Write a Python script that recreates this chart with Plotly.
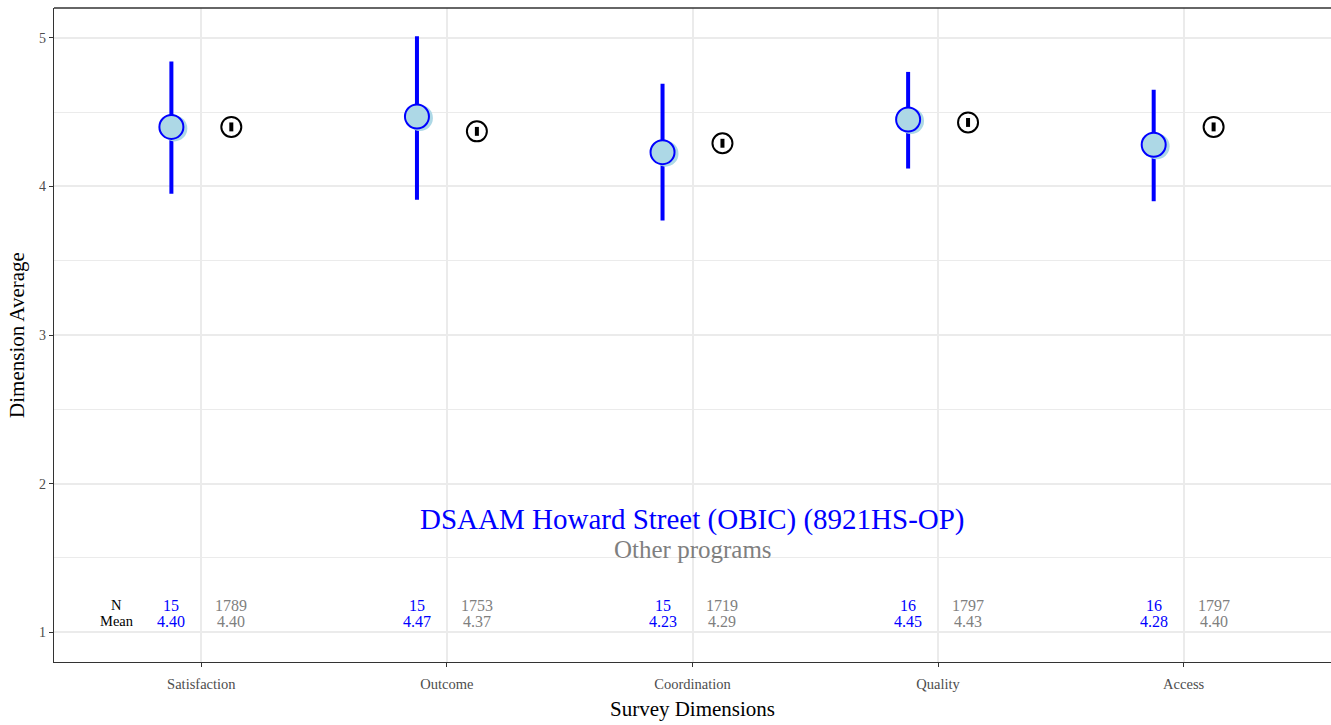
import plotly.graph_objects as go

# Survey dimensions and summary statistics
categories = ["Satisfaction", "Outcome", "Coordination", "Quality", "Access"]

prog_name = "DSAAM Howard Street (OBIC) (8921HS-OP)"
prog_n = [15, 15, 15, 16, 16]
prog_mean = [4.40, 4.47, 4.23, 4.45, 4.28]
prog_lo = [3.95, 3.91, 3.77, 4.12, 3.90]
prog_hi = [4.84, 5.01, 4.69, 4.77, 4.65]

other_name = "Other programs"
other_n = [1789, 1753, 1719, 1797, 1797]
other_mean = [4.40, 4.37, 4.29, 4.43, 4.40]
other_err = [0.03, 0.03, 0.03, 0.03, 0.03]

y_ticks = [1, 2, 3, 4, 5]

FONT = "Liberation Serif"
BLUE = "#0000ff"
GREY = "#7f7f7f"
DODGE = 0.122
ROW_N = 1.181     # y of the "N" row
ROW_MEAN = 1.074  # y of the "Mean" row

xpos = list(range(1, len(categories) + 1))
x_prog = [x - DODGE for x in xpos]
x_other = [x + DODGE for x in xpos]

fig = go.Figure()

# Program confidence intervals
fig.add_trace(go.Scatter(
    x=x_prog, y=prog_mean, mode="markers",
    marker=dict(size=0.1, color=BLUE),
    error_y=dict(type="data", symmetric=False,
                 array=[h - m for h, m in zip(prog_hi, prog_mean)],
                 arrayminus=[m - l for l, m in zip(prog_lo, prog_mean)],
                 color=BLUE, thickness=4, width=0),
    hoverinfo="skip", showlegend=False,
))
# soft halo behind the program means
fig.add_trace(go.Scatter(
    x=[x + 0.012 for x in x_prog], y=[m - 0.01 for m in prog_mean], mode="markers",
    marker=dict(size=26, color="#add8e6", line=dict(width=0)),
    hoverinfo="skip", showlegend=False,
))
fig.add_trace(go.Scatter(
    x=x_prog, y=prog_mean, mode="markers",
    marker=dict(size=24, color="#add8e6", line=dict(width=2, color=BLUE)),
    name=prog_name, showlegend=False,
))

# Other programs: mean with a narrow interval
fig.add_trace(go.Scatter(
    x=x_other, y=other_mean, mode="markers",
    marker=dict(size=20, color="white", line=dict(width=2, color="black")),
    hoverinfo="skip", showlegend=False,
))
fig.add_trace(go.Scatter(
    x=x_other, y=other_mean, mode="markers",
    marker=dict(size=0.1, color="black"),
    error_y=dict(type="data", array=other_err, color="black", thickness=4, width=0),
    name=other_name, showlegend=False,
))

annotations = []


def label(x, y, text, color, size):
    annotations.append(dict(x=x, y=y, xref="x", yref="y", text=text,
                            showarrow=False,
                            font=dict(family=FONT, size=size, color=color)))


# N / Mean row labels
label(1 - 0.345, ROW_N, "N", "black", 14.5)
label(1 - 0.345, ROW_MEAN, "Mean", "black", 14.5)
for i in range(len(categories)):
    label(x_prog[i], ROW_N, f"{prog_n[i]}", BLUE, 16)
    label(x_prog[i], ROW_MEAN, f"{prog_mean[i]:.2f}", BLUE, 16)
    label(x_other[i], ROW_N, f"{other_n[i]}", GREY, 16)
    label(x_other[i], ROW_MEAN, f"{other_mean[i]:.2f}", GREY, 16)

# Legend-style captions
label(3, 1.76, prog_name, BLUE, 29)
label(3, 1.56, other_name, GREY, 25)

fig.update_layout(
    width=1331, height=725,
    margin=dict(l=54, r=0, t=8, b=63),
    paper_bgcolor="white", plot_bgcolor="white",
    font=dict(family=FONT, color="black"),
    annotations=annotations,
    shapes=[dict(type="line", xref="paper", yref="paper", x0=0, x1=1, y0=1, y1=1,
                 line=dict(color="#333333", width=1.3))],
)
fig.update_xaxes(
    range=[0.4, 5.6], tickvals=xpos, ticktext=categories,
    showgrid=True, gridcolor="#ebebeb", gridwidth=1.5, zeroline=False,
    showline=True, linecolor="#333333", linewidth=1.3,
    ticks="outside", ticklen=4, tickcolor="#333333", tickwidth=1.3,
    ticklabelstandoff=4,
    tickfont=dict(family=FONT, size=14.5, color="#4d4d4d"),
    title=dict(text="Survey Dimensions", font=dict(family=FONT, size=21), standoff=10),
)
fig.update_yaxes(
    range=[0.8, 5.2], tickvals=y_ticks,
    showgrid=True, gridcolor="#ebebeb", gridwidth=1.5, zeroline=False,
    minor=dict(tickvals=[1.5, 2.5, 3.5, 4.5], showgrid=True, gridcolor="#ebebeb", gridwidth=1),
    showline=True, linecolor="#333333", linewidth=1.3,
    ticks="outside", ticklen=4, tickcolor="#333333", tickwidth=1.3,
    tickfont=dict(family=FONT, size=14, color="#4d4d4d"),
    title=dict(text="Dimension Average", font=dict(family=FONT, size=21), standoff=8),
)

fig.write_html("out.html")
